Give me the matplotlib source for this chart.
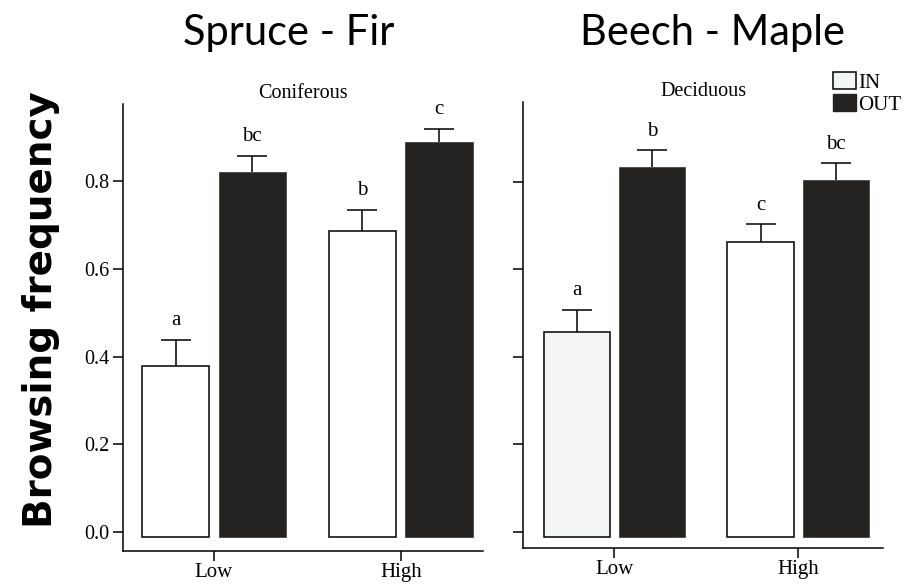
import numpy as np
import matplotlib
matplotlib.use("Agg")
from matplotlib import pyplot as plt
from matplotlib.patches import Patch

groups = ["Low", "High"]
panels = ["Coniferous", "Deciduous"]
headers = ["Spruce - Fir", "Beech - Maple"]

# browsing frequency (mean) and upper error, per panel: [Low, High]
con_in = [0.379, 0.686]
con_in_err = [0.059, 0.049]
con_out = [0.821, 0.891]
con_out_err = [0.038, 0.029]
con_in_lbl = ["a", "b"]
con_out_lbl = ["bc", "c"]

dec_in = [0.457, 0.663]
dec_in_err = [0.050, 0.040]
dec_out = [0.834, 0.805]
dec_out_err = [0.038, 0.037]
dec_in_lbl = ["a", "c"]
dec_out_lbl = ["b", "bc"]

serif = "Liberation Serif"
dark = "#252322"

fig = plt.figure(figsize=(9.09, 5.84), dpi=100)
ax1 = fig.add_axes([0.1353, 0.0570, 0.5317 - 0.1353, 0.8219 - 0.0570])
ax2 = fig.add_axes([0.5757, 0.0622, 0.9717 - 0.5757, 0.8259 - 0.0622])

data = [
    (ax1, con_in, con_in_err, con_out, con_out_err, con_in_lbl, con_out_lbl,
     (-0.487, 1.442), (-0.0434, 0.977), "white"),
    (ax2, dec_in, dec_in_err, dec_out, dec_out_err, dec_in_lbl, dec_out_lbl,
     (-0.495, 1.462), (-0.0366, 0.983), ["#f4f6f6", "white"]),
]

x = np.arange(len(groups))
w = 0.36
off = 0.205
base = -0.012

for i, (ax, vin, ein, vout, eout, lin, lout, xl, yl, incol) in enumerate(data):
    vin = np.array(vin)
    vout = np.array(vout)
    ax.bar(x - off, vin - base, w, bottom=base, color=incol, edgecolor="black", linewidth=1.1, zorder=2)
    ax.bar(x + off, vout - base, w, bottom=base, color=dark, edgecolor="#444444", linewidth=0.6, zorder=2)
    for xs, v, e in [(x - off, vin, ein), (x + off, vout, eout)]:
        eb = ax.errorbar(xs, v, yerr=[np.zeros(2), e], fmt="none", ecolor="black",
                         elinewidth=1.1, capsize=11, capthick=1.1, zorder=1)
        eb[1][0].set_visible(False)  # no cap at bar top
    for j in range(2):
        ax.text(x[j] - off, vin[j] + ein[j] + 0.022, lin[j], ha="center", va="bottom",
                fontsize=15, family=serif)
        ax.text(x[j] + off, vout[j] + eout[j] + 0.022, lout[j], ha="center", va="bottom",
                fontsize=15, family=serif)

    ax.set_xlim(*xl)
    ax.set_ylim(*yl)
    ax.set_xticks(x)
    ax.set_xticklabels(groups, family=serif, fontsize=15)
    ax.set_yticks([0.0, 0.2, 0.4, 0.6, 0.8])
    if i == 0:
        ax.set_yticklabels(["0.0", "0.2", "0.4", "0.6", "0.8"], family=serif, fontsize=14.5)
    else:
        ax.set_yticklabels([])
    for s in ["top", "right"]:
        ax.spines[s].set_visible(False)
    ax.spines["left"].set_linewidth(1.1)
    ax.spines["bottom"].set_linewidth(1.1)
    ax.tick_params(length=7, width=1.1, pad=3)
    ax.tick_params(axis="x", pad=2)
    ax.set_title(panels[i], family=serif, fontsize=14.5, pad=4)

handles = [Patch(facecolor="#f4f6f6", edgecolor="black", linewidth=1.1, label="IN"),
           Patch(facecolor=dark, edgecolor=dark, label="OUT")]
ax2.legend(handles=handles, loc="upper right", bbox_to_anchor=(1.085, 1.095), frameon=False,
           prop={"family": serif, "size": 15}, handlelength=1.1, handleheight=0.9,
           handletextpad=0.1, labelspacing=0.05, borderpad=0.1)

fig.text(289 / 909, 1 - 33 / 584, headers[0], ha="center", va="center", fontsize=30, family="Lato")
fig.text(713 / 909, 1 - 33 / 584, headers[1], ha="center", va="center", fontsize=30, family="Lato")
fig.text(41 / 909, 1 - 310 / 584, "Browsing frequency", rotation=90, ha="center", va="center",
         fontsize=28, fontweight="bold", family="DejaVu Sans")

fig.savefig("out.png", dpi=100)
